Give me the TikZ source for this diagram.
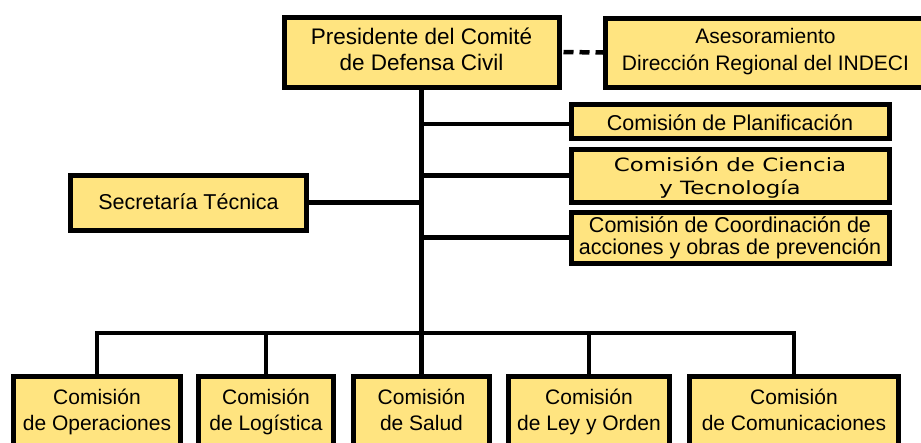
\documentclass[tikz,border=0pt]{standalone}
\usepackage{fontspec}
\setmainfont{Liberation Sans}
\newfontfamily\widefont[FakeStretch=1.25]{DejaVu Sans}
\definecolor{boxfill}{HTML}{FFE480}
\begin{document}
\begin{tikzpicture}[x=1pt,y=-1pt,
  box/.style={draw=black, line width=5pt, fill=boxfill, inner sep=0pt,
    align=center, anchor=north, text=black},
  fa/.style={font=\fontsize{21.5}{26}\selectfont},
  conn/.style={draw=black, line width=4.5pt},
  dashconn/.style={draw=black, line width=4.5pt, dash pattern=on 10pt off 6pt, dash phase=-2pt}]
\useasboundingbox (0,0) rectangle (921,442);
\clip (0,0) rectangle (921,442);
% top
\node[box, font=\fontsize{22.5}{26}\selectfont, minimum width=275pt, text height=53.5pt, text depth=16.5pt]
  (pres) at (421.5,14.5) {Presidente del Comité\\de Defensa Civil};
\node[box, font=\fontsize{21}{27}\selectfont, minimum width=320pt, text height=52.5pt, text depth=16.5pt]
  (ases) at (765.5,15.5) {Asesoramiento\\Dirección Regional del INDECI};
% right side
\node[box, fa, minimum width=318pt, text height=26.8pt, text depth=7.2pt]
  (plan) at (730,101.5) {Comisión de Planificación};
\node[box, font=\widefont\fontsize{18.3}{22.4}\selectfont, minimum width=318pt, text height=45.2pt, text depth=7.8pt]
  (cien) at (730,146.5) {Comisión de Ciencia\\y Tecnología};
\node[box, font=\fontsize{21.5}{22}\selectfont, minimum width=318pt, text height=42.5pt, text depth=8.5pt]
  (coord) at (730,209.5) {Comisión de Coordinación de\\acciones y obras de prevención};
% left
\node[box, fa, minimum width=236pt, text height=34.2pt, text depth=20.8pt]
  (secr) at (188.5,172.5) {Secretaría Técnica};
% bottom
\tikzset{bot/.style={box, font=\fontsize{21}{26}\selectfont, text height=54.5pt, text depth=32pt}}
\node[bot, minimum width=167pt] (b1) at (97,373.5) {Comisión\\de Operaciones};
\node[bot, minimum width=135pt] (b2) at (266,373.5) {Comisión\\de Logística};
\node[bot, minimum width=136pt] (b3) at (421.5,373.5) {Comisión\\de Salud};
\node[bot, minimum width=161pt] (b4) at (589,373.5) {Comisión\\de Ley y Orden};
\node[bot, minimum width=209pt] (b5) at (794,373.5) {Comisión\\de Comunicaciones};
% connectors
\coordinate (bus) at (421.5,333);
\coordinate (jp) at (421.5,124);
\draw[dashconn] (pres.east) -- (ases.west);
\draw[conn] (pres.south) -- (b3.north);
\draw[conn] (jp) -- (plan.west |- jp);
\draw[conn] (cien.west -| pres.south) -- (cien.west);
\draw[conn] (coord.west -| pres.south) -- (coord.west);
\draw[conn] (secr.east) -- (secr.east -| pres.south);
\draw[conn, line join=miter] (b1.north) |- (bus) -| (b5.north);
\draw[conn] (b2.north) -- (b2.north |- bus);
\draw[conn] (b4.north) -- (b4.north |- bus);
\end{tikzpicture}
\end{document}
